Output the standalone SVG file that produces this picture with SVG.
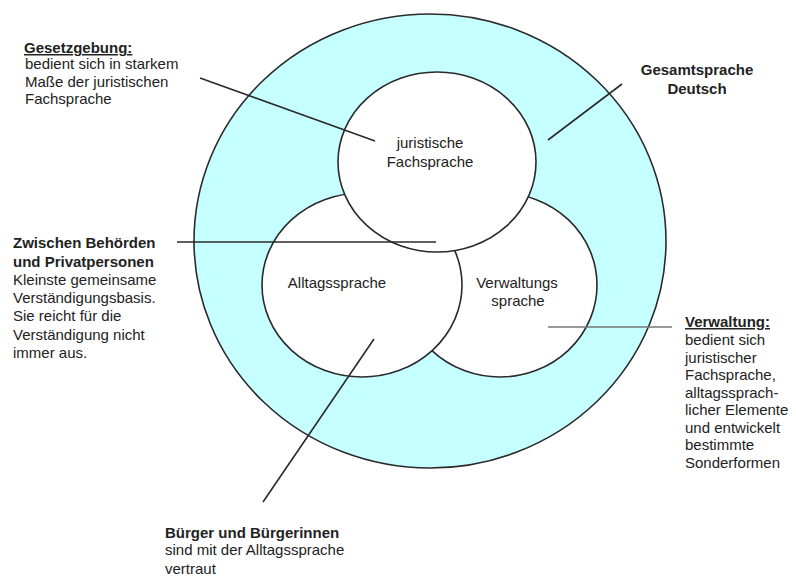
<svg xmlns="http://www.w3.org/2000/svg" width="796" height="576" viewBox="0 0 796 576">
<style>
text{font-family:"Liberation Sans",Arial,sans-serif;font-size:15px;fill:#222}
.b{font-weight:bold}
.u{text-decoration:underline}
.c{text-anchor:middle}
.sh{stroke:#2a2a2a;stroke-width:1.6}
.in{fill:#ffffff}
.ln{stroke:#2a2a2a;stroke-width:1.6;fill:none}
</style>
<rect width="796" height="576" fill="#ffffff"/>
<g id="gesamtsprache">
<ellipse cx="430" cy="241" rx="236" ry="227" fill="#c6ffff" class="sh"/>
</g>
<g id="verwaltungssprache">
<ellipse cx="500" cy="285" rx="97" ry="92" class="in sh"/>
<text class="c" x="517" y="288">Verwaltungs</text>
<text class="c" x="518" y="306">sprache</text>
</g>
<g id="alltagssprache">
<ellipse cx="362" cy="285" rx="100" ry="92" class="in sh"/>
<text class="c" x="337" y="288">Alltagssprache</text>
</g>
<g id="juristische">
<ellipse cx="437" cy="162" rx="99" ry="90" class="in sh"/>
<text class="c" x="430" y="148">juristische</text>
<text class="c" x="430" y="167">Fachsprache</text>
</g>
<g id="connectors">
<line class="ln" x1="200" y1="78" x2="375" y2="141"/>
<line class="ln" x1="548" y1="140" x2="622" y2="84"/>
<line class="ln" x1="177" y1="242" x2="436" y2="242"/>
<line class="ln" x1="548" y1="327" x2="672" y2="327" style="stroke:#777"/>
<line class="ln" x1="263" y1="502" x2="374" y2="339"/>
</g>
<g id="note-gesetzgebung">
<text class="b u" x="24" y="53">Gesetzgebung:</text>
<text x="25" y="69">bedient sich in starkem</text>
<text x="25" y="87">Maße der juristischen</text>
<text x="25" y="104">Fachsprache</text>
</g>
<g id="note-gesamt">
<text class="b c" x="697" y="75">Gesamtsprache</text>
<text class="b c" x="697" y="94">Deutsch</text>
</g>
<g id="note-zwischen">
<text class="b" x="13" y="248">Zwischen Behörden</text>
<text class="b" x="13" y="267">und Privatpersonen</text>
<text x="13" y="285">Kleinste gemeinsame</text>
<text x="13" y="303">Verständigungsbasis.</text>
<text x="13" y="321">Sie reicht für die</text>
<text x="13" y="340">Verständigung nicht</text>
<text x="13" y="358">immer aus.</text>
</g>
<g id="note-verwaltung">
<text class="b u" x="685" y="327">Verwaltung:</text>
<text x="685" y="345">bedient sich</text>
<text x="685" y="363">juristischer</text>
<text x="685" y="380">Fachsprache,</text>
<text x="685" y="398">alltagssprach-</text>
<text x="685" y="415">licher Elemente</text>
<text x="685" y="433">und entwickelt</text>
<text x="685" y="450">bestimmte</text>
<text x="685" y="468">Sonderformen</text>
</g>
<g id="note-buerger">
<text class="b" x="165" y="538">Bürger und Bürgerinnen</text>
<text x="165" y="555">sind mit der Alltagssprache</text>
<text x="165" y="574">vertraut</text>
</g>
</svg>
